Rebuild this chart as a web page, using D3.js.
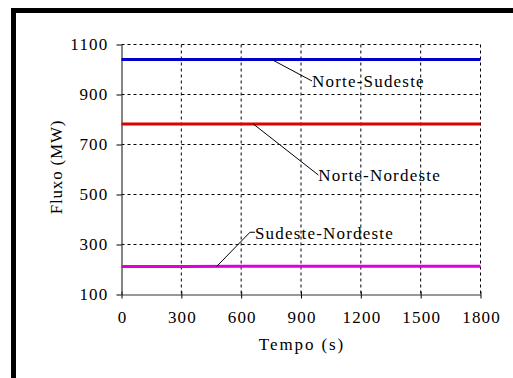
<!DOCTYPE html>
<html><head><meta charset="utf-8">
<script src="https://cdn.jsdelivr.net/npm/d3@7/dist/d3.min.js"></script>
<style>
body{margin:0;background:#fff;}
</style></head>
<body><svg id="c" width="513" height="378"></svg>
<script>
const times = [0, 300, 600, 900, 1200, 1500, 1800];
const norteSudeste = [1040, 1040, 1040, 1040, 1040, 1040, 1040];
const norteNordeste = [782, 782, 782, 782, 782, 782, 782];
const sudesteNordeste = [212, 212, 213, 213, 213, 213, 213];
const xTicks = [0, 300, 600, 900, 1200, 1500, 1800];
const yTicks = [100, 300, 500, 700, 900, 1100];
const seriesNames = ["Norte-Sudeste", "Norte-Nordeste", "Sudeste-Nordeste"];
const seriesColors = ["#0000cc", "#dd0000", "#dd00dd"];
const FONT = "'Liberation Serif', 'Times New Roman', 'DejaVu Serif', serif";
const FS = 17, LS = 1.2;

const svg = d3.select("#c").attr("font-family", FONT);
svg.append("rect").attr("x", 11).attr("y", 8).attr("width", 502).attr("height", 5).attr("fill", "#000");
svg.append("rect").attr("x", 11).attr("y", 8).attr("width", 5).attr("height", 370).attr("fill", "#000");

const L = 121.5, R = 480.5, T = 44.5, B = 294.5;
const x = d3.scaleLinear().domain([0, 1800]).range([L, R]);
const y = d3.scaleLinear().domain([100, 1100]).range([B, T]);

const g = svg.append("g");
g.selectAll(".vg").data(xTicks.filter(d => d > 0)).join("line")
  .attr("x1", d => x(d)).attr("x2", d => x(d)).attr("y1", T).attr("y2", B)
  .attr("stroke", "#000").attr("stroke-dasharray", "3,3").attr("stroke-width", 1);
g.selectAll(".hg").data(yTicks.filter(d => d > 100)).join("line")
  .attr("x1", L).attr("x2", R).attr("y1", d => y(d)).attr("y2", d => y(d))
  .attr("stroke", "#000").attr("stroke-dasharray", "3,3").attr("stroke-width", 1);

const xAxis = d3.axisBottom(x).tickValues(xTicks).tickFormat(d3.format("d")).tickSizeInner(4).tickSizeOuter(0).tickPadding(12);
const yAxis = d3.axisLeft(y).tickValues(yTicks).tickFormat(d3.format("d")).tickSizeInner(5).tickSizeOuter(0).tickPadding(8);
const gx = svg.append("g").attr("transform", `translate(0,${B})`).call(xAxis);
const gy = svg.append("g").attr("transform", `translate(${L},0)`).call(yAxis);
[gx, gy].forEach(a => {
  a.attr("font-family", FONT).attr("font-size", FS);
  a.select(".domain").attr("stroke", "#333").attr("stroke-width", 1.2);
  a.selectAll(".tick line").attr("stroke", "#000");
  a.selectAll("text").attr("letter-spacing", LS).attr("fill", "#000");
});
gx.selectAll(".tick text").attr("dx", LS / 2);
gx.selectAll(".tick").append("line").attr("y1", 0).attr("y2", -3).attr("stroke", "#000");

const data = [norteSudeste, norteNordeste, sudesteNordeste];
const line = d3.line().x((d, i) => x(times[i])).y(d => y(d));
data.forEach((s, k) => {
  svg.append("path").datum(s).attr("d", line).attr("fill", "none")
    .attr("stroke", seriesColors[k]).attr("stroke-width", 3);
});

const ann = [
  {t: 753, s: 0, lt: 955, lv: 954, elbow: 0},
  {t: 661, s: 1, lt: 987, lv: 578, elbow: 0},
  {t: 477, s: 2, lt: 669, lv: 349, elbow: 25}
];
ann.forEach(a => {
  const px = x(a.t), py = y(data[a.s][0]);
  const tx = x(a.lt), ty = y(a.lv);
  const pts = a.elbow ? [[px, py], [x(a.lt - a.elbow), ty], [tx, ty]] : [[px, py], [tx, ty]];
  svg.append("path").attr("d", d3.line()(pts)).attr("fill", "none").attr("stroke", "#000").attr("stroke-width", 1);
  svg.append("text").attr("x", tx).attr("y", ty).attr("dy", "0.38em")
    .attr("font-size", FS).attr("letter-spacing", LS).text(seriesNames[a.s]);
});

svg.append("text").attr("x", (L + R) / 2 + 1).attr("y", 350).attr("text-anchor", "middle")
  .attr("font-size", FS).attr("letter-spacing", 1.9).text("Tempo (s)");
svg.append("text").attr("transform", `translate(62,167) rotate(-90)`)
  .attr("text-anchor", "middle").attr("font-size", FS).attr("letter-spacing", 0.8).text("Fluxo (MW)");
</script></body></html>
